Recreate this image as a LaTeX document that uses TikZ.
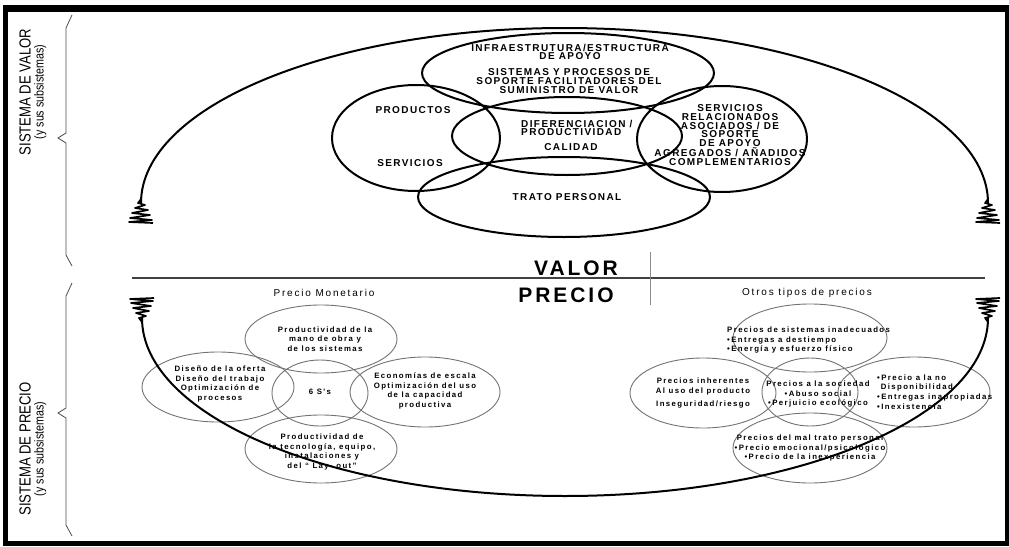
\documentclass[tikz,border=0pt]{standalone}
\usepackage{fontspec}
\setmainfont{Liberation Sans}
\newfontfamily\capsf{Liberation Sans}[LetterSpace=14]
\newfontfamily\smallf{Liberation Sans}[LetterSpace=18]
\newfontfamily\narrowf{Liberation Sans}[FakeStretch=0.82]
\usetikzlibrary{shapes.geometric}

\tikzset{
  vring/.style={draw=black, line width=2pt, ellipse, inner sep=0pt},
  pring/.style={draw=black!55, line width=0.9pt, ellipse, inner sep=0pt},
  vtext/.style={font=\capsf\bfseries\fontsize{10}{8.8}\selectfont, align=center, inner sep=0pt},
  ptext/.style={font=\smallf\bfseries\fontsize{7.8}{9.6}\selectfont, align=center, inner sep=0pt},
  ptitle/.style={font=\smallf\fontsize{10}{10}\selectfont, inner sep=0pt},
  bigword/.style={font=\capsf\bfseries\fontsize{21}{21}\selectfont, inner sep=0pt},
  sidelabel/.style={rotate=90, align=center, inner sep=0pt, font=\narrowf\fontsize{16}{13}\selectfont},
  brace/.style={draw=black!70, line width=0.8pt},
  flow/.style={draw=black, line width=2pt},
  spring/.pic={\draw[line width=1.7pt, line join=round]
      (0,-4) -- (-3,0) -- (4,2) -- (-6,5) -- (7,7) -- (-9,10) -- (9,12)
      -- (-11,15) -- (11,17) -- (-12,19) -- (12,20);}
}

\begin{document}
\begin{tikzpicture}[x=1pt, y=-1pt]
\useasboundingbox (0,0) rectangle (1009,546);

% outer frame
\fill[black] (3,5) rectangle (1009,12);
\fill[black] (3,5) rectangle (8,546);
\fill[black] (3,541) rectangle (1009,546);
\fill[black] (1005,5) rectangle (1009,546);

% side braces and their labels
\draw[brace] (72,15) -- (66,28) -- (66,133) -- (58,138) -- (66,143) -- (66,255) -- (72,266);
\draw[brace] (72,283) -- (66,296) -- (66,408) -- (58,413) -- (66,418) -- (66,525) -- (72,536);
\node[sidelabel] (lvalor) at (33,92) {SISTEMA DE VALOR\\{\fontsize{13}{13}\selectfont (y sus subsistemas)}};
\node[sidelabel] (lprecio) at (33,449) {SISTEMA DE PRECIO\\{\fontsize{13}{13}\selectfont (y sus subsistemas)}};

% value system: overlapping rings
\node[vring, minimum width=292, minimum height=80] (infra) at (568,73) {};
\node[vring, minimum width=168, minimum height=106] (prod) at (416,138) {};
\node[vring, minimum width=230, minimum height=78] (dif) at (567,136) {};
\node[vring, minimum width=170, minimum height=106] (serv) at (722,139) {};
\node[vring, minimum width=292, minimum height=80] (trato) at (564,197) {};

\node[vtext] (t-infra) at (570,52) {INFRAESTRUTURA/ESTRUCTURA\\DE APOYO};
\node[vtext] (t-sist) at (569,81) {SISTEMAS Y PROCESOS DE\\SOPORTE FACILITADORES DEL\\SUMINISTRO DE VALOR};
\node[vtext] (t-prod) at (413,110) {PRODUCTOS};
\node[vtext] (t-servi) at (410,163) {SERVICIOS};
\node[vtext, align=left, anchor=west] (t-dif) at (521,128) {DIFERENCIACION /\\PRODUCTIVIDAD};
\node[vtext] (t-cal) at (571,147) {CALIDAD};
\node[vtext] (t-trato) at (567,197) {TRATO PERSONAL};
\node[vtext] (t-serv) at (730,135) {SERVICIOS\\RELACIONADOS\\ASOCIADOS / DE\\SOPORTE\\DE APOYO\\AGREGADOS / AÑADIDOS\\COMPLEMENTARIOS};

% value / price divide
\coordinate (divL) at (132,278);
\coordinate (divR) at (985,278);
\coordinate (sepT) at (650,252);
\coordinate (sepB) at (650,305);
\draw[draw=black!75, line width=1.5pt] (divL) -- (divR);
\draw[draw=black!45, line width=0.8pt] (sepT) -- (sepB);
\node[bigword] (valor) at (576,268) {VALOR};
\node[bigword] (precio) at (566,295) {PRECIO};

% monetary price
\node[ptitle] (t-mon) at (324,293) {Precio Monetario};
\node[pring, minimum width=152, minimum height=68] (mo) at (321,339) {};
\node[pring, minimum width=152, minimum height=70] (dis) at (218,387) {};
\node[pring, minimum width=96, minimum height=66] (ss) at (320,393) {};
\node[pring, minimum width=150, minimum height=70] (eco) at (425,392) {};
\node[pring, minimum width=152, minimum height=68] (tec) at (321,449) {};

\node[ptext] (t-mo) at (325,339) {Productividad de la\\mano de obra y\\de los sistemas};
\node[ptext] (t-dis) at (220,384) {Diseño de la oferta\\Diseño del trabajo\\Optimización de\\procesos};
\node[ptext] (t-ss) at (320,392) {6 S's};
\node[ptext] (t-eco) at (425,391) {Economías de escala\\Optimización del uso\\de la capacidad\\productiva};
\node[ptext] (t-tec) at (322,452) {Productividad de\\la tecnología, equipo,\\instalaciones y\\del “ Lay- out”};

% other kinds of price
\node[ptitle] (t-otros) at (807,293) {Otros tipos de precios};
\node[pring, minimum width=154, minimum height=68] (sis) at (810,338) {};
\node[pring, minimum width=146, minimum height=70] (inh) at (703,393) {};
\node[pring, minimum width=96, minimum height=68] (soc) at (810,392) {};
\node[pring, minimum width=152, minimum height=70] (disp) at (914,392) {};
\node[pring, minimum width=154, minimum height=70] (mal) at (810,448) {};

\node[ptext, align=left, anchor=west] (t-sis) at (727,340) {Precios de sistemas inadecuados\\•Entregas a destiempo\\•Energía y esfuerzo físico};
\node[ptext] (t-inh) at (703,393) {Precios inherentes\\Al uso del producto\\[0.9ex]Inseguridad/riesgo};
\node[ptext] (t-soc) at (818,394) {Precios a la sociedad\\•Abuso social\\•Perjuicio ecológico};
\node[ptext, align=left, anchor=west] (t-disp) at (877,392) {•Precio a la no\\\ Disponibilidad\\•Entregas inapropiadas\\•Inexistencia};
\node[ptext] (t-mal) at (810,448) {Precios del mal trato personal\\•Precio emocional/psicológico\\•Precio de la inexperiencia};

% value flow (upper arc) and price flow (lower arc)
\coordinate (vL) at (141,203);
\coordinate (vR) at (988,203);
\coordinate (pL) at (142,318);
\coordinate (pR) at (988,318);
\draw[flow] (vL) arc[start angle=180, end angle=360, x radius=423.5, y radius=175];
\draw[flow] (pL) arc[start angle=180, end angle=0, x radius=423, y radius=178];
\pic at (vL) {spring};
\pic at (vR) {spring};
\pic[yscale=-1] at (pL) {spring};
\pic[yscale=-1] at (pR) {spring};
\end{tikzpicture}
\end{document}
